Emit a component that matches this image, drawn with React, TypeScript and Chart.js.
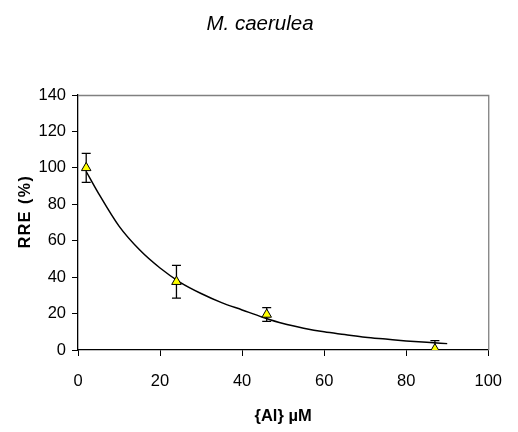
import React, { useEffect, useRef } from 'react';
import { Chart, registerables } from 'chart.js';

Chart.register(...registerables);

const titleText = 'M. caerulea';
const xAxisLabel = '{Al} µM';
const yAxisLabel = 'RRE (%)';

// measured points
const concentrations = [2, 24, 46, 87];
const rreMeans = [100, 37.5, 19.5, 0.5];
const rreErrors = [8, 9, 3.8, 4.6];

// fitted curve
const fitX = [2, 5, 10, 15, 20, 25, 30, 35, 40, 45, 50, 55, 60, 65, 70, 75, 80, 85, 90];
const fitY = [98, 86, 68, 55, 45, 37, 31, 26, 22, 18, 14.5, 12, 10, 8.5, 7, 6, 5, 4.2, 3.5];

const xMin = 0;
const xMax = 100;
const xStep = 20;
const yMin = 0;
const yMax = 140;
const yStep = 20;

const SANS = "'Liberation Sans', Arial, sans-serif";

const framePlugin = {
  id: 'frame',
  beforeDatasetsDraw(chart: any) {
    const { ctx, chartArea } = chart;
    ctx.save();
    ctx.strokeStyle = '#808080';
    ctx.lineWidth = 1.3;
    ctx.beginPath();
    ctx.moveTo(chartArea.left, chartArea.top + 0.5);
    ctx.lineTo(chartArea.right + 0.5, chartArea.top + 0.5);
    ctx.lineTo(chartArea.right + 0.5, chartArea.bottom);
    ctx.stroke();
    ctx.restore();
  },
};

const errorBarPlugin = {
  id: 'errorBars',
  beforeDatasetsDraw(chart: any) {
    const { ctx, chartArea, scales } = chart;
    const xs = scales.x;
    const ys = scales.y;
    ctx.save();
    ctx.beginPath();
    ctx.rect(chartArea.left, chartArea.top, chartArea.right - chartArea.left, chartArea.bottom - chartArea.top);
    ctx.clip();
    ctx.strokeStyle = '#000';
    ctx.lineWidth = 1.3;
    const cap = 4.5;
    concentrations.forEach((c, i) => {
      const px = xs.getPixelForValue(c);
      const top = ys.getPixelForValue(rreMeans[i] + rreErrors[i]);
      const bot = ys.getPixelForValue(rreMeans[i] - rreErrors[i]);
      ctx.beginPath();
      ctx.moveTo(px, top);
      ctx.lineTo(px, bot);
      ctx.moveTo(px - cap, top);
      ctx.lineTo(px + cap, top);
      ctx.moveTo(px - cap, bot);
      ctx.lineTo(px + cap, bot);
      ctx.stroke();
    });
    ctx.restore();
  },
};

const textPlugin = {
  id: 'texts',
  afterDraw(chart: any) {
    const { ctx, chartArea } = chart;
    // title
    ctx.save();
    ctx.fillStyle = '#000';
    ctx.font = `italic 20.5px ${SANS}`;
    ctx.textAlign = 'center';
    ctx.textBaseline = 'middle';
    ctx.fillText(titleText, 260, 24.5);
    ctx.restore();
    // y-axis title
    ctx.save();
    ctx.translate(26, (chartArea.top + chartArea.bottom) / 2 - 11);
    ctx.rotate(-Math.PI / 2);
    ctx.fillStyle = '#000';
    ctx.font = `bold 16px ${SANS}`;
    (ctx as any).letterSpacing = '1.5px';
    ctx.textAlign = 'center';
    ctx.textBaseline = 'middle';
    ctx.fillText(yAxisLabel, 0, 0);
    ctx.restore();
  },
};

export default function App() {
  const canvasRef = useRef<HTMLCanvasElement | null>(null);

  useEffect(() => {
    document.body.style.margin = '0';
    const canvas = canvasRef.current;
    if (!canvas) return;
    const chart = new Chart(canvas, {
      type: 'line',
      data: {
        datasets: [
          {
            label: 'fit',
            data: fitX.map((x, i) => ({ x, y: fitY[i] })),
            borderColor: '#000',
            borderWidth: 1.5,
            pointRadius: 0,
            cubicInterpolationMode: 'monotone',
            fill: false,
            order: 2,
          },
          {
            label: 'RRE',
            data: concentrations.map((x, i) => ({ x, y: rreMeans[i] })),
            showLine: false,
            pointStyle: 'triangle',
            pointRadius: 5.5,
            backgroundColor: '#ffff00',
            borderColor: '#000',
            borderWidth: 1,
            order: 1,
          },
        ],
      },
      options: {
        animation: false,
        responsive: false,
        maintainAspectRatio: false,
        layout: { padding: { left: 0, right: 16, top: 95, bottom: 0 } },
        plugins: {
          legend: { display: false },
          tooltip: { enabled: false },
          title: { display: false },
        },
        scales: {
          x: {
            type: 'linear',
            min: xMin,
            max: xMax,
            ticks: {
              stepSize: xStep,
              color: '#000',
              font: { family: SANS, size: 16.5 },
              padding: 16,
              maxRotation: 0,
            },
            grid: { drawOnChartArea: false, drawTicks: true, tickLength: 6, color: '#000' },
            border: { color: '#000', width: 1.3 },
            title: {
              display: true,
              text: xAxisLabel,
              color: '#000',
              font: { family: SANS, size: 16.5, weight: 'bold', lineHeight: 1.2 },
              padding: { top: 0, bottom: 6 },
            },
            afterFit(scale: any) {
              scale.height = 82;
            },
          },
          y: {
            type: 'linear',
            min: yMin,
            max: yMax,
            ticks: {
              stepSize: yStep,
              color: '#000',
              font: { family: SANS, size: 16.5 },
              padding: 6,
            },
            grid: { drawOnChartArea: false, drawTicks: true, tickLength: 6, color: '#000' },
            border: { color: '#000', width: 1.3 },
            title: { display: false },
            afterFit(scale: any) {
              scale.width = 78;
            },
          },
        },
      },
      plugins: [framePlugin, errorBarPlugin, textPlugin],
    } as any);
    return () => chart.destroy();
  }, []);

  return (
    <div style={{ position: 'absolute', left: 0, top: 0, width: 518, height: 432, background: '#fff' }}>
      <canvas ref={canvasRef} width={518} height={432} style={{ display: 'block' }} />
    </div>
  );
}
